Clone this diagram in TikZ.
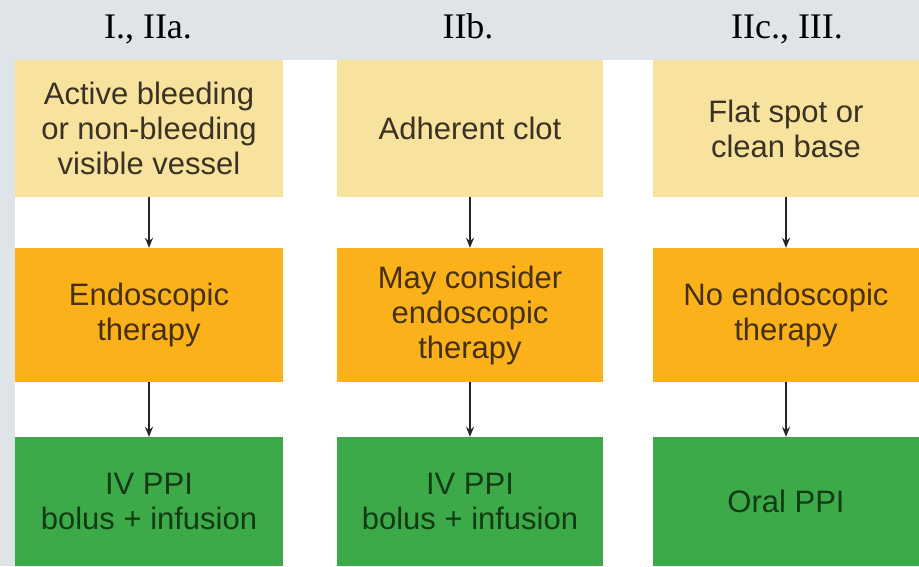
\documentclass[tikz,border=0pt]{standalone}
\usepackage{fontspec}
\setmainfont{Liberation Serif}
\setsansfont{Liberation Sans}
\usepackage{xcolor}
\usetikzlibrary{arrows.meta}

\definecolor{pageGray}{HTML}{DEE4E7}
\definecolor{stigmaFill}{HTML}{F8E39E}
\definecolor{therapyFill}{HTML}{FBB119}
\definecolor{drugFill}{HTML}{3DAA4A}
\definecolor{stigmaText}{HTML}{3A3222}
\definecolor{therapyText}{HTML}{46300A}
\definecolor{drugText}{HTML}{123A14}

\begin{document}
\begin{tikzpicture}[
    x=1pt, y=-1pt,
    grade/.style={font=\rmfamily\fontsize{36}{40}\selectfont, anchor=base, text=black, inner sep=0pt},
    stigma/.style={fill=stigmaFill, text=stigmaText, minimum height=137pt, align=center, inner sep=0pt, font=\sffamily\fontsize{31}{35}\selectfont},
    therapy/.style={fill=therapyFill, text=therapyText, minimum height=134pt, align=center, inner sep=0pt, font=\sffamily\fontsize{31}{35}\selectfont},
    drug/.style={fill=drugFill, text=drugText, minimum height=129pt, align=center, inner sep=0pt, font=\sffamily\fontsize{31}{35}\selectfont},
    wideA/.style={minimum width=268pt},
    wideB/.style={minimum width=266pt},
    link/.style={-{Stealth[length=10pt,width=8pt]}, line width=1.4pt, black!85}
]
    % page
    \fill[pageGray] (0,0) rectangle (919,566);
    \fill[white] (15,60) rectangle (919,566);

    % grades
    \node[grade] (g1) at (148,38) {I., IIa.};
    \node[grade] (g2) at (468,38) {IIb.};
    \node[grade] (g3) at (787,38) {IIc., III.};

    % stigmata
    \node[stigma, wideA] (s1) at (149,128.5) {Active bleeding\\or non-bleeding\\visible vessel};
    \node[stigma, wideB] (s2) at (470,128.5) {Adherent clot};
    \node[stigma, wideB] (s3) at (786,128.5) {Flat spot or\\clean base};

    % endoscopy
    \node[therapy, wideA] (t1) at (149,315) {Endoscopic\\therapy};
    \node[therapy, wideB] (t2) at (470,315) {May consider\\endoscopic\\therapy};
    \node[therapy, wideB] (t3) at (786,315) {No endoscopic\\therapy};

    % PPI
    \node[drug, wideA] (d1) at (149,501.5) {IV PPI\\bolus + infusion};
    \node[drug, wideB] (d2) at (470,501.5) {IV PPI\\bolus + infusion};
    \node[drug, wideB] (d3) at (786,501.5) {Oral PPI};

    \draw[link] (s1.south) -- (t1.north);
    \draw[link] (s2.south) -- (t2.north);
    \draw[link] (s3.south) -- (t3.north);
    \draw[link] (t1.south) -- (d1.north);
    \draw[link] (t2.south) -- (d2.north);
    \draw[link] (t3.south) -- (d3.north);
\end{tikzpicture}
\end{document}
